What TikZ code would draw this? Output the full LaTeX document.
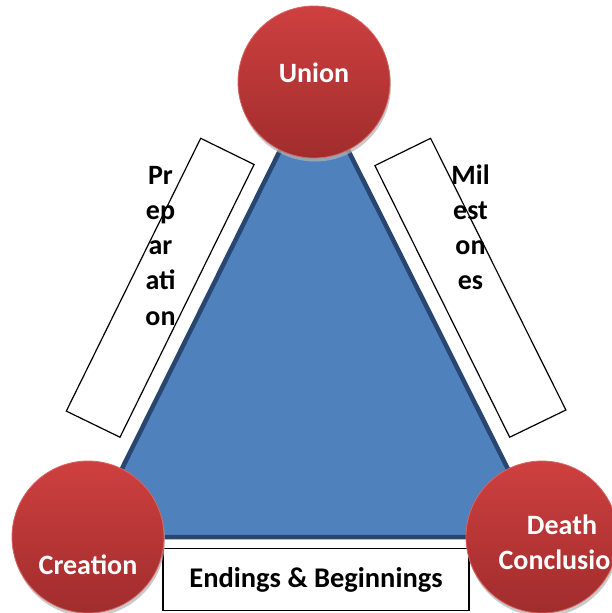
\documentclass[tikz,border=0pt]{standalone}
\usepackage{fontspec}
\setmainfont{Carlito}
\usetikzlibrary{calc}
\definecolor{triblue}{HTML}{4F81BD}
\definecolor{triedge}{HTML}{284670}
\definecolor{redtop}{HTML}{CE4040}
\definecolor{redbot}{HTML}{A12C2C}
\definecolor{redrim}{HTML}{D86565}
\tikzset{
  ball/.style={circle, minimum size=152pt, inner sep=0pt, top color=redtop, bottom color=redbot, draw=redrim, line width=0.8pt},
  ballshadow/.style={circle, minimum size=152pt, inner sep=0pt, fill=black!30, opacity=0.7},
  balltext/.style={text=white, font=\fontsize{28}{34}\selectfont\bfseries, align=center, inner sep=0pt},
  sidebox/.style={draw=black, line width=1.2pt, fill=white},
  sidetext/.style={font=\fontsize{28}{35.3}\selectfont\bfseries, inner sep=0pt, anchor=base},
}
\begin{document}
\begin{tikzpicture}[x=1pt,y=-1pt]
\useasboundingbox (0,0) rectangle (611,613);
% vertices
\coordinate (U) at (314,82);
\coordinate (C) at (88,537);
\coordinate (D) at (542,537);
% triangle
\draw[fill=triblue, draw=triedge, line width=4.5pt, line join=miter] (U) -- (C) -- (D) -- cycle;
% side boxes
\coordinate (p1) at (200.7,138.3);
\coordinate (p2) at (254.1,164.5);
\coordinate (p3) at (120,437.2);
\coordinate (p4) at (66.3,411.1);
\draw[sidebox] (p1) -- (p2) -- (p3) -- (p4) -- cycle;
\coordinate (m1) at (374.9,165.6);
\coordinate (m2) at (430.6,138.3);
\coordinate (m3) at (565.9,410);
\coordinate (m4) at (509.7,437.2);
\draw[sidebox] (m1) -- (m2) -- (m3) -- (m4) -- cycle;
\node[sidetext] (prep) at (160.5,184) {\parbox[t]{60pt}{\centering Pr\\ep\\ar\\ati\\on}};
\node[sidetext] (mile) at (470.5,184) {\parbox[t]{60pt}{\centering Mil\\est\\on\\es}};
% bottom box
\node[draw=black, line width=1.5pt, fill=white, minimum width=306pt, minimum height=62pt, inner sep=0pt,
      font=\fontsize{28.5}{34}\selectfont\bfseries] (endb) at (316,579.5) {Endings \& Beginnings};
% circles
\node[ballshadow] at ($(U)+(1,3.5)$) {};
\node[ballshadow] at ($(C)+(1,3.5)$) {};
\node[ballshadow] at ($(D)+(1,3.5)$) {};
\node[ball] (union) at (U) {};
\node[ball] (creation) at (C) {};
\node[ball] (death) at (D) {};
\node[balltext, anchor=base] (ut) at (314,82.5) {Union};
\node[balltext, anchor=base] (ct) at (88,574) {Creation};
\node[balltext, anchor=base] (dt) at (562,534) {\parbox[t]{150pt}{\centering\baselineskip=35pt Death\\Conclusion}};
\end{tikzpicture}
\end{document}
